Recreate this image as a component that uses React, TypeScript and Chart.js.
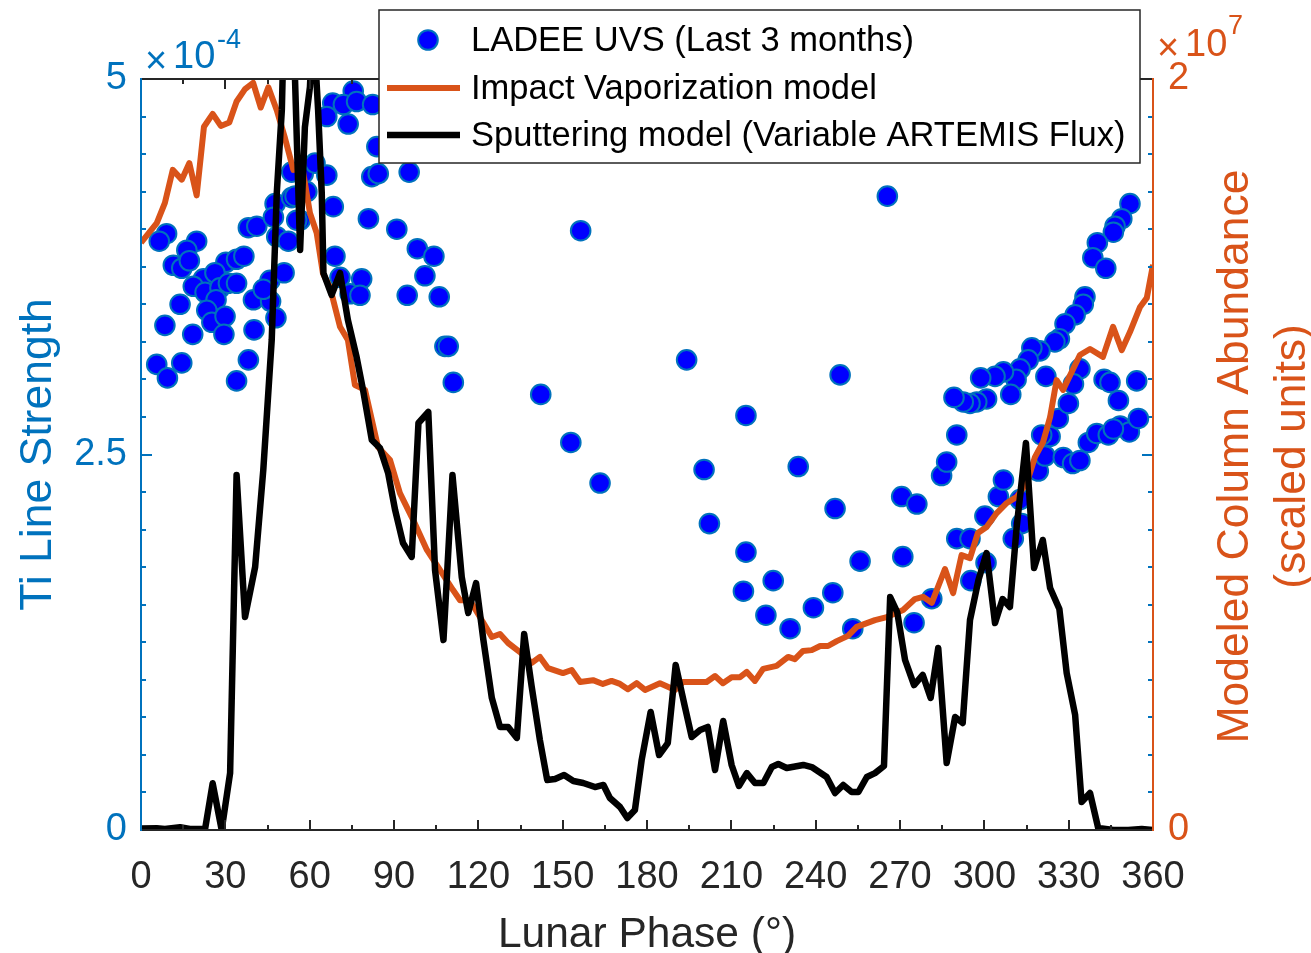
import React, { useEffect, useRef } from "react";
import { Chart, registerables } from "chart.js";

Chart.register(...registerables);

const FONT = "'Liberation Sans', Arial, Helvetica, sans-serif";
const BLUE = "#0072BD";
const ORANGE = "#D95319";
const DARK = "#262626";
const DOT_FILL = "#0000FF";

const W = 1311;
const H = 953;
const AREA = { left: 141, right: 1153, top: 79, bottom: 830 };

// ---- axes / text ----
const phaseTicks = [0, 30, 60, 90, 120, 150, 180, 210, 240, 270, 300, 330, 360];
const strengthTicks = [0, 2.5, 5];
const abundanceTicks = [0, 2];
const strengthExponent = "-4";
const abundanceExponent = "7";
const xTitle = "Lunar Phase (°)";
const yTitle = "Ti Line Strength";
const y1Title = ["Modeled Column Abundance", "(scaled units)"];

// ---- LADEE UVS observations (phase in degrees, strength ×1e-4) ----
const uvsPhase = [
  9.1, 6.5, 19.8, 16.3, 11.5, 14.5, 17.2, 30.2, 34.0, 36.6, 38.2, 41.2, 47.7, 53.6, 47.1, 48.3, 52.4, 56.6,
  22.2, 18.6, 26.3, 22.8, 28.1, 31.1, 34.0, 26.7, 13.9, 23.4, 25.2, 29.9, 8.5, 18.4, 29.5, 40.2, 40.0, 45.9,
  50.9, 46.1, 48.0, 43.5, 5.6, 9.4, 14.5, 38.2, 34.0,
  75.5, 68.2, 72.0, 76.7, 82.4, 66.1, 73.7, 83.9, 82.1, 84.4, 95.4, 80.9, 91.0, 98.3, 104.2, 101.0, 94.7,
  106.1, 108.1, 109.3, 111.1, 68.4, 59.0, 54.8, 57.7, 61.9, 66.1, 53.6, 55.4, 69.0, 70.8, 74.4, 78.5, 77.9,
  156.4, 142.2, 152.9, 163.3, 194.1, 215.2, 200.3, 202.2, 215.2, 224.9, 214.3, 222.3, 230.9, 233.8, 246.9,
  239.2, 246.1, 253.2, 255.8, 248.7, 265.5, 270.6, 276.0, 271.0, 275.0, 281.3, 290.2, 294.9, 295.2, 300.6,
  300.2, 305.0, 306.8, 312.7, 313.3, 310.3, 284.8, 286.6, 290.2, 319.2, 321.6, 323.4, 326.3, 329.9, 328.1,
  331.4, 334.0, 337.0, 340.0, 344.1, 348.3, 351.6, 354.8, 347.7,
  351.8, 348.9, 346.5, 345.9, 340.2, 338.6, 343.2, 335.8, 335.2, 332.3, 328.7, 326.7, 325.1, 319.8, 316.9,
  315.6, 312.7, 311.3, 306.8, 303.8, 298.7, 309.4, 300.8, 297.3, 294.9, 292.5, 289.2, 321.9, 334.0, 331.7,
  320.4, 345.9, 342.6, 344.7, 354.2,
];
const uvsStrength = [
  3.97, 3.92, 3.92, 3.86, 3.76, 3.74, 3.79, 3.78, 3.8, 3.82, 4.01, 4.02, 4.17, 4.21, 4.08, 3.95, 3.92, 4.06,
  3.67, 3.62, 3.71, 3.58, 3.61, 3.64, 3.64, 3.53, 3.5, 3.46, 3.38, 3.42, 3.36, 3.3, 3.3, 3.33, 3.53, 3.66,
  3.71, 3.52, 3.41, 3.6, 3.1, 3.01, 3.11, 3.13, 2.99,
  4.92, 4.84, 4.83, 4.85, 4.83, 4.75, 4.7, 4.55, 4.35, 4.37, 4.38, 4.07, 4.0, 3.87, 3.82, 3.69, 3.56,
  3.55, 3.22, 3.22, 2.98, 4.15, 4.25, 4.22, 4.37, 4.44, 4.36, 4.38, 4.06, 3.82, 3.68, 3.57, 3.67, 3.56,
  3.99, 2.9, 2.58, 2.31, 3.13, 2.76, 2.4, 2.04, 1.85, 1.66, 1.59, 1.43, 1.34, 2.42, 2.14,
  1.48, 1.58, 1.34, 1.79, 3.03, 4.22, 2.22, 2.17, 1.82, 1.38, 1.54, 1.94, 1.94, 1.66, 1.78,
  2.09, 2.22, 2.33, 2.2, 2.04, 1.94, 2.36, 2.45, 2.63, 2.39, 2.49, 2.62, 2.74, 2.84, 2.48,
  2.44, 2.46, 2.58, 2.64, 2.63, 2.69, 2.65, 2.74, 2.86,
  4.17, 4.07, 4.02, 3.98, 3.91, 3.81, 3.74, 3.55, 3.5, 3.43, 3.37, 3.27, 3.25, 3.19, 3.21,
  3.13, 3.07, 3.0, 3.05, 3.02, 3.01, 2.9, 2.87, 2.85, 2.84, 2.85, 2.88, 3.02, 3.07, 2.97,
  2.63, 2.67, 3.0, 2.98, 2.99,
];

// ---- Impact vaporization model (phase, abundance ×1e7) ----
const impactPhase = [
  0, 5.6, 8.5, 11.3, 14.5, 17.2, 19.8, 22.4, 25.5, 28.4, 31.4, 34.0, 37.0, 39.9, 42.6, 45.3, 48.3, 51.2,
  54.2, 57.3, 60.1, 62.5, 64.7, 67.2, 70.8, 73.6, 76.1, 79.7, 84.3, 88.6, 92.1, 96.8, 101.7, 106.4, 111.0,
  113.5, 117.0, 124.8, 127.7, 130.6, 134.8, 139.0, 141.9, 144.8, 150.1, 153.2, 156.2, 160.8, 164.3, 167.4,
  170.4, 173.2, 176.3, 179.3, 184.6, 190.0, 192.8, 201.2, 204.2, 207.0, 210.1, 213.1, 215.5, 218.4, 221.3,
  226.1, 230.2, 232.6, 235.5, 238.6, 241.6, 244.4, 247.5, 251.5, 254.6, 258.2, 261.1, 265.3, 271.1, 275.3,
  278.2, 281.3, 286.0, 288.9, 291.9, 294.9, 297.7, 300.8, 304.4, 308.0, 311.5, 315.1, 318.0, 320.9, 323.4,
  325.7, 328.0, 334.0, 337.6, 342.2, 345.8, 348.9, 351.8, 355.4, 357.8, 360,
];
const impactAbundance = [
  1.564, 1.616, 1.67, 1.758, 1.732, 1.776, 1.69, 1.873, 1.907, 1.875, 1.884, 1.94, 1.973, 1.99, 1.924, 1.978,
  1.917, 1.843, 1.758, 1.768, 1.643, 1.59, 1.483, 1.446, 1.34, 1.305, 1.185, 1.172, 1.02, 0.985, 0.897, 0.826,
  0.746, 0.692, 0.639, 0.612, 0.612, 0.514, 0.522, 0.498, 0.474, 0.445, 0.461, 0.431, 0.418, 0.426, 0.394,
  0.399, 0.389, 0.397, 0.389, 0.375, 0.391, 0.373, 0.391, 0.373, 0.394, 0.394, 0.41, 0.391, 0.407, 0.407,
  0.421, 0.397, 0.429, 0.437, 0.461, 0.455, 0.477, 0.479, 0.49, 0.49, 0.503, 0.517, 0.541, 0.551, 0.559,
  0.567, 0.586, 0.615, 0.621, 0.605, 0.695, 0.631, 0.732, 0.724, 0.791, 0.807, 0.844, 0.871, 0.887, 0.924,
  0.993, 1.033, 1.1, 1.198, 1.172, 1.265, 1.281, 1.26, 1.34, 1.278, 1.326, 1.393, 1.417, 1.505,
];

// ---- Sputtering model (phase, strength ×1e-4) ----
const sputterPhase = [
  0, 5.6, 8.5, 13.9, 17.4, 22.8, 25.5, 28.7, 31.7, 34.0, 37.0, 40.6, 43.5, 46.5, 48.3, 50.1, 52.3, 54.8,
  56.6, 58.3, 60.1, 61.2, 63.0, 64.3, 64.9, 67.8, 70.8, 73.6, 76.7, 79.0, 82.1, 85.0, 87.9, 90.4, 93.2,
  96.3, 98.7, 102.2, 104.6, 107.6, 110.8, 114.1, 116.4, 119.2, 121.8, 124.8, 127.7, 130.6, 133.7, 136.3,
  139.0, 141.9, 144.5, 147.3, 150.5, 153.8, 157.3, 161.5, 164.5, 166.8, 170.4, 173.0, 175.7, 178.1, 181.3,
  184.3, 187.4, 190.2, 193.5, 195.9, 198.9, 201.6, 204.2, 207.1, 210.1, 212.7, 215.5, 218.4, 221.4, 224.4,
  226.7, 229.7, 235.6, 238.6, 243.9, 246.9, 249.8, 252.8, 255.2, 258.2, 261.1, 264.3, 266.5, 269.0, 271.8,
  275.0, 278.1, 280.9, 283.6, 286.6, 289.6, 292.3, 294.9, 297.9, 300.8, 303.8, 306.5, 309.1, 311.5, 314.8,
  317.7, 320.8, 323.4, 326.7, 329.3, 332.3, 334.6, 337.6, 340.5, 345.9, 351.2, 356.0, 360,
];
const sputterStrength = [
  0.01, 0.011, 0.007, 0.018, 0.007, 0.007, 0.311, 0.0, 0.38, 2.364, 1.418, 1.751, 2.397, 3.262, 4.241, 4.794,
  6.5, 4.993, 3.862, 4.68, 4.947, 5.4, 4.794, 4.241, 3.708, 3.562, 3.708, 3.396, 3.149, 2.929, 2.597, 2.543,
  2.377, 2.13, 1.911, 1.818, 2.71, 2.783, 1.731, 1.265, 2.364, 1.684, 1.445, 1.644, 1.265, 0.879, 0.686,
  0.686, 0.613, 1.305, 0.952, 0.599, 0.333, 0.34, 0.366, 0.326, 0.313, 0.286, 0.3, 0.213, 0.153, 0.08,
  0.133, 0.466, 0.786, 0.499, 0.579, 1.099, 0.819, 0.619, 0.666, 0.686, 0.399, 0.726, 0.433, 0.293, 0.379,
  0.313, 0.313, 0.419, 0.439, 0.413, 0.433, 0.419, 0.353, 0.246, 0.3, 0.253, 0.253, 0.353, 0.379, 0.426,
  1.551, 1.451, 1.132, 0.965, 1.032, 0.879, 1.212, 0.446, 0.752, 0.712, 1.398, 1.664, 1.844, 1.378, 1.538,
  1.485, 2.017, 2.577, 1.744, 1.931, 1.611, 1.471, 1.045, 0.766, 0.186, 0.246, 0.013, 0.0, 0.0, 0.007, 0.0,
];

const LEGEND_LABELS = [
  "LADEE UVS (Last 3 months)",
  "Impact Vaporization model",
  "Sputtering model (Variable ARTEMIS Flux)",
];

const zip = (xs: number[], ys: number[]) => xs.map((x, i) => ({ x, y: ys[i] }));

const framePlugin = {
  id: "frame",
  afterDatasetsDraw(chart: any) {
    const { ctx, chartArea: a, scales } = chart;
    const xs = scales.x;
    const ys = scales.y;
    const seg = (x1: number, y1: number, x2: number, y2: number) => {
      ctx.beginPath();
      ctx.moveTo(x1, y1);
      ctx.lineTo(x2, y2);
      ctx.stroke();
    };
    ctx.save();
    ctx.lineWidth = 2;
    ctx.lineCap = "butt";
    ctx.strokeStyle = DARK;
    for (let v = 0; v <= 360; v += 15) {
      const px = Math.round(xs.getPixelForValue(v));
      const len = v % 30 === 0 ? 10 : 5;
      seg(px, a.bottom, px, a.bottom - len);
      seg(px, a.top, px, a.top + len);
    }
    ctx.strokeStyle = BLUE;
    for (let i = 0; i <= 20; i++) {
      const v = i * 0.25;
      const py = Math.round(ys.getPixelForValue(v));
      const len = i % 10 === 0 ? 11 : 5;
      seg(a.left, py, a.left + len, py);
      seg(a.right, py, a.right - len, py);
    }
    ctx.strokeStyle = DARK;
    seg(a.left, a.top, a.right, a.top);
    seg(a.left, a.bottom, a.right, a.bottom);
    ctx.strokeStyle = BLUE;
    seg(a.left, a.top - 1, a.left, a.bottom + 1);
    ctx.strokeStyle = ORANGE;
    seg(a.right, a.top - 1, a.right, a.bottom + 1);
    ctx.restore();
  },
  afterDraw(chart: any) {
    const { ctx, chartArea: a } = chart;
    ctx.save();
    ctx.fillStyle = DARK;
    ctx.font = `42.5px ${FONT}`;
    ctx.textAlign = "center";
    ctx.textBaseline = "alphabetic";
    ctx.fillText(xTitle, (a.left + a.right) / 2, 947);

    ctx.font = `44.5px ${FONT}`;
    ctx.save();
    ctx.translate(51, (a.top + a.bottom) / 2);
    ctx.rotate(-Math.PI / 2);
    ctx.fillStyle = BLUE;
    ctx.fillText(yTitle, 0, 0);
    ctx.restore();

    ctx.save();
    ctx.translate(1248, (a.top + a.bottom) / 2 + 2);
    ctx.rotate(-Math.PI / 2);
    ctx.fillStyle = ORANGE;
    ctx.fillText(y1Title[0], 0, 0);
    ctx.fillText(y1Title[1], 0, 57);
    ctx.restore();

    ctx.textAlign = "left";
    ctx.fillStyle = BLUE;
    ctx.font = `38px ${FONT}`;
    ctx.fillText("×", 145, 73);
    ctx.fillText("10", 173, 68);
    ctx.font = `27px ${FONT}`;
    ctx.fillText(strengthExponent, 217, 48);

    ctx.fillStyle = ORANGE;
    ctx.font = `38px ${FONT}`;
    ctx.fillText("×", 1157, 60);
    ctx.fillText("10", 1185, 56);
    ctx.font = `27px ${FONT}`;
    ctx.fillText(abundanceExponent, 1228, 34);

    const box = { l: 379, t: 10, r: 1140, b: 163 };
    ctx.fillStyle = "#ffffff";
    ctx.fillRect(box.l, box.t, box.r - box.l, box.b - box.t);
    ctx.strokeStyle = DARK;
    ctx.lineWidth = 1.5;
    ctx.strokeRect(box.l, box.t, box.r - box.l, box.b - box.t);
    const rows = [40, 88, 135];
    const ds = chart.data.datasets;
    ctx.beginPath();
    ctx.arc(428, rows[0], 9.8, 0, Math.PI * 2);
    ctx.fillStyle = ds[0].backgroundColor;
    ctx.fill();
    ctx.lineWidth = 2;
    ctx.strokeStyle = ds[0].borderColor;
    ctx.stroke();
    ctx.lineCap = "butt";
    ctx.strokeStyle = ds[1].borderColor;
    ctx.lineWidth = ds[1].borderWidth;
    ctx.beginPath();
    ctx.moveTo(387, rows[1]);
    ctx.lineTo(460, rows[1]);
    ctx.stroke();
    ctx.strokeStyle = ds[2].borderColor;
    ctx.lineWidth = ds[2].borderWidth;
    ctx.beginPath();
    ctx.moveTo(387, rows[2]);
    ctx.lineTo(460, rows[2]);
    ctx.stroke();
    ctx.fillStyle = "#000000";
    ctx.font = `34.5px ${FONT}`;
    ctx.textBaseline = "middle";
    ds.forEach((d: any, i: number) => ctx.fillText(d.label, 471, rows[i] + 1));
    ctx.restore();
  },
};

export default function App() {
  const ref = useRef<HTMLCanvasElement | null>(null);
  useEffect(() => {
    document.body.style.margin = "0";
    const tickFont = { family: FONT, size: 38 };
    const chart = new Chart(ref.current as HTMLCanvasElement, {
      type: "scatter",
      data: {
        datasets: [
          {
            type: "scatter",
            label: LEGEND_LABELS[0],
            data: zip(uvsPhase, uvsStrength),
            yAxisID: "y",
            backgroundColor: DOT_FILL,
            borderColor: BLUE,
            borderWidth: 2,
            pointRadius: 9.8,
            pointHoverRadius: 9.8,
            pointBorderWidth: 2,
            order: 2,
          },
          {
            type: "line",
            label: LEGEND_LABELS[1],
            data: zip(impactPhase, impactAbundance),
            yAxisID: "y1",
            borderColor: ORANGE,
            backgroundColor: ORANGE,
            borderWidth: 6,
            borderJoinStyle: "round",
            fill: false,
            pointRadius: 0,
            tension: 0,
            order: 1,
          },
          {
            type: "line",
            label: LEGEND_LABELS[2],
            data: zip(sputterPhase, sputterStrength),
            yAxisID: "y",
            borderColor: "#000000",
            backgroundColor: "#000000",
            borderWidth: 6.5,
            borderJoinStyle: "round",
            fill: false,
            pointRadius: 0,
            tension: 0,
            order: 0,
          },
        ] as any,
      },
      options: {
        responsive: false,
        animation: false,
        devicePixelRatio: 1,
        layout: { padding: { top: AREA.top, left: 0, right: 0, bottom: 0 } },
        plugins: { legend: { display: false }, tooltip: { enabled: false } },
        scales: {
          x: {
            type: "linear",
            position: "bottom",
            min: 0,
            max: 360,
            afterBuildTicks: (s: any) => {
              s.ticks = phaseTicks.map((v) => ({ value: v }));
            },
            afterFit: (s: any) => {
              s.height = H - AREA.bottom;
            },
            ticks: {
              color: DARK,
              font: tickFont,
              padding: 25,
              maxRotation: 0,
              autoSkip: false,
              callback: (v: any) => String(v),
            },
            grid: { display: false, drawTicks: false },
            border: { display: false },
          },
          y: {
            type: "linear",
            position: "left",
            min: 0,
            max: 5,
            afterBuildTicks: (s: any) => {
              s.ticks = strengthTicks.map((v) => ({ value: v }));
            },
            afterFit: (s: any) => {
              s.width = AREA.left;
            },
            ticks: {
              color: BLUE,
              font: tickFont,
              padding: 14,
              autoSkip: false,
              callback: (v: any) => String(v),
            },
            grid: { display: false, drawTicks: false },
            border: { display: false },
          },
          y1: {
            type: "linear",
            position: "right",
            min: 0,
            max: 2,
            afterBuildTicks: (s: any) => {
              s.ticks = abundanceTicks.map((v) => ({ value: v }));
            },
            afterFit: (s: any) => {
              s.width = W - AREA.right;
            },
            ticks: {
              color: ORANGE,
              font: tickFont,
              padding: 15,
              autoSkip: false,
              callback: (v: any) => String(v),
            },
            grid: { display: false, drawTicks: false },
            border: { display: false },
          },
        },
      } as any,
      plugins: [framePlugin],
    });
    return () => chart.destroy();
  }, []);
  return (
    <div style={{ width: W, height: H, background: "#ffffff" }}>
      <canvas ref={ref} width={W} height={H} style={{ display: "block" }} />
    </div>
  );
}
